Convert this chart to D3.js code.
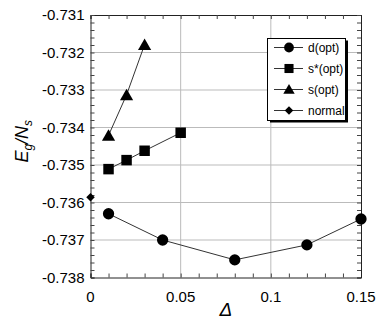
<!DOCTYPE html>
<html><head><meta charset="utf-8">
<script src="https://cdn.jsdelivr.net/npm/d3@7"></script>
<style>body{margin:0;background:#fff}svg{display:block}text{font-family:"Liberation Sans",Arial,sans-serif}</style>
</head><body><svg id="c" width="384" height="325"></svg>
<script>
const dX = [0.01, 0.04, 0.08, 0.12, 0.15];
const dY = [-0.7363, -0.7370, -0.73753, -0.73713, -0.73644];
const ssX = [0.01, 0.02, 0.03, 0.05];
const ssY = [-0.73511, -0.73487, -0.73462, -0.73414];
const sX = [0.01, 0.02, 0.03];
const sY = [-0.73421, -0.73313, -0.73179];
const nX = [0];
const nY = [-0.73586];
const seriesNames = ["d(opt)", "s*(opt)", "s(opt)", "normal"];
const xTicks = [0, 0.05, 0.1, 0.15];
const xTickLabels = ["0", "0.05", "0.1", "0.15"];
const yTicks = [-0.738, -0.737, -0.736, -0.735, -0.734, -0.733, -0.732, -0.731];

const svg = d3.select("#c");
const L = 90.5, R = 361, T = 15, B = 277.5;
const x = d3.scaleLinear().domain([0, 0.15]).range([L, R]);
const y = d3.scaleLinear().domain([-0.738, -0.731]).range([B, T]);

// grid
svg.append("g").selectAll("line").data(xTicks.slice(1, -1)).join("line")
  .attr("x1", d => x(d)).attr("x2", d => x(d)).attr("y1", T).attr("y2", B)
  .attr("stroke", "#bbb").attr("stroke-width", 1);
svg.append("g").selectAll("line").data(yTicks.slice(1, -1)).join("line")
  .attr("y1", d => y(d)).attr("y2", d => y(d)).attr("x1", L).attr("x2", R)
  .attr("stroke", "#bbb").attr("stroke-width", 1);

// axes with inward ticks
const xMinor = d3.range(0, 0.1501, 0.01);
const yMinor = d3.range(-0.738, -0.73099, 0.0002);
const axB = d3.axisBottom(x).tickValues(xMinor).tickSize(-4).tickFormat("");
const axT = d3.axisTop(x).tickValues(xMinor).tickSize(-4).tickFormat("");
const axL = d3.axisLeft(y).tickValues(yMinor).tickSize(-4).tickFormat("");
const axR = d3.axisRight(y).tickValues(yMinor).tickSize(-4).tickFormat("");
svg.append("g").attr("transform", `translate(0,${B})`).call(axB);
svg.append("g").attr("transform", `translate(0,${T})`).call(axT);
svg.append("g").attr("transform", `translate(${L},0)`).call(axL);
svg.append("g").attr("transform", `translate(${R},0)`).call(axR);
svg.selectAll(".domain").attr("stroke", "#222");
svg.selectAll(".tick line").attr("stroke", "#444");

// tick labels
svg.append("g").selectAll("text").data(xTicks).join("text")
  .attr("x", d => x(d)).attr("y", B + 24).attr("text-anchor", "middle")
  .attr("font-size", 15).text((d, i) => xTickLabels[i]);
svg.append("g").selectAll("text").data(yTicks).join("text")
  .attr("x", L - 6).attr("y", d => y(d) + 5).attr("text-anchor", "end")
  .attr("font-size", 15).text(d => d3.format(".3f")(d).replace("−", "-"));

// axis titles
svg.append("text").attr("x", (L + R) / 2).attr("y", 316).attr("text-anchor", "middle")
  .attr("font-size", 19).attr("font-style", "italic").text("Δ");
const yl = svg.append("text").attr("transform", `translate(28,${(T + B) / 2 - 5}) rotate(-90)`)
  .attr("text-anchor", "middle").attr("font-size", 18).attr("font-style", "italic");
yl.append("tspan").text("E");
yl.append("tspan").attr("font-size", 12).attr("dy", 4).text("g");
yl.append("tspan").attr("dy", -4).text("/N");
yl.append("tspan").attr("font-size", 12).attr("dy", 4).text("s");

// markers
const sym = [d3.symbolCircle, d3.symbolSquare, d3.symbolTriangle, d3.symbolSquare];
const symSize = [100, 110, 75, 36];
const symRot = [0, 0, 0, 45];
const line = d3.line().x(d => x(d[0])).y(d => y(d[1]));
const series = [[dX, dY], [ssX, ssY], [sX, sY], [nX, nY]];
series.forEach((s, i) => {
  const pts = s[0].map((v, j) => [v, s[1][j]]);
  svg.append("path").attr("d", line(pts)).attr("fill", "none").attr("stroke", "#333").attr("stroke-width", 1);
  svg.append("g").selectAll("path").data(pts).join("path")
    .attr("transform", d => `translate(${x(d[0])},${y(d[1]) + (i === 2 ? 1.5 : 0)}) rotate(${symRot[i]})`)
    .attr("d", d3.symbol(sym[i], symSize[i])).attr("fill", "#000");
});

// legend
const lg = svg.append("g");
lg.append("rect").attr("x", 270).attr("y", 40.5).attr("width", 78).attr("height", 82).attr("fill", "#000");
lg.append("rect").attr("x", 267.5).attr("y", 38.5).attr("width", 78).attr("height", 82)
  .attr("fill", "#fff").attr("stroke", "#000").attr("stroke-width", 1);
seriesNames.forEach((n, i) => {
  const yy = 47.5 + i * 21;
  lg.append("line").attr("x1", 274).attr("x2", 303).attr("y1", yy).attr("y2", yy).attr("stroke", "#333");
  lg.append("path").attr("transform", `translate(289,${yy + (i === 2 ? 1 : 0)}) rotate(${symRot[i]})`)
    .attr("d", d3.symbol(sym[i], symSize[i] * (i === 3 ? 1 : 0.75))).attr("fill", "#000");
  lg.append("text").attr("x", 308).attr("y", yy + 4.5).attr("font-size", 12).text(n);
});
</script></body></html>
